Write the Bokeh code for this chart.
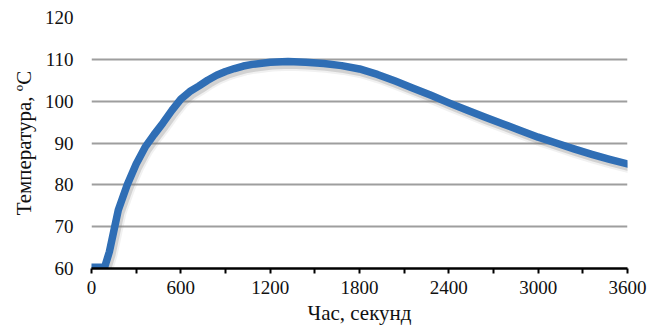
from bokeh.plotting import figure
from bokeh.models import FixedTicker, Range1d
from bokeh.embed import file_html
from bokeh.resources import INLINE

# Data
time_s = [0, 60, 90, 120, 150, 180, 240, 300, 360, 420, 480, 540, 600, 660, 720,
          780, 840, 900, 960, 1020, 1080, 1200, 1320, 1440, 1560, 1680, 1800,
          1920, 2040, 2160, 2280, 2400, 2520, 2640, 2760, 2880, 3000, 3120,
          3240, 3360, 3480, 3600]
temp_c = [60.3, 60.3, 60.5, 64, 69, 74, 80, 85, 89, 92, 94.8, 97.8, 100.5,
          102.3, 103.6, 105, 106.2, 107.1, 107.8, 108.4, 108.8, 109.3, 109.5,
          109.3, 109.0, 108.5, 107.7, 106.4, 104.8, 103.1, 101.4, 99.6, 97.9,
          96.2, 94.6, 93.0, 91.4, 90.0, 88.6, 87.3, 86.1, 85.0]

x_major_ticks = [0, 600, 1200, 1800, 2400, 3000, 3600]
x_minor_ticks = [300, 900, 1500, 2100, 2700, 3300]
y_ticks = [60, 70, 80, 90, 100, 110, 120]

x_label = "Час, секунд"
y_label = "Температура, ºC"

FONT = "Liberation Serif"

p = figure(width=654, height=329, output_backend="svg", toolbar_location=None,
           x_range=Range1d(0, 3600), y_range=Range1d(60, 120),
           min_border_left=91, min_border_right=27, min_border_top=17,
           min_border_bottom=61)
p.outline_line_color = None
p.background_fill_color = "white"
p.border_fill_color = "white"

# shadow
sx = [t + 14 for t in time_s]
sy = [v - 0.8 for v in temp_c]
p.line(sx, sy, line_width=12, line_color="#888888", line_alpha=0.12,
       line_join="round", line_cap="round")
p.line(sx, sy, line_width=8, line_color="#777777", line_alpha=0.25,
       line_join="round", line_cap="round")
# main line
p.line(time_s, temp_c, line_width=7.5, line_color="#2F6EB5",
       line_join="round", line_cap="round")

# x axis
xa = p.xaxis[0]
xa.ticker = FixedTicker(ticks=x_major_ticks, minor_ticks=x_minor_ticks)
xa.axis_line_color = "black"
xa.axis_line_width = 2.5
xa.major_tick_line_color = "black"
xa.major_tick_line_width = 2
xa.minor_tick_line_color = "black"
xa.minor_tick_line_width = 2
xa.major_tick_in = 0
xa.major_tick_out = 5
xa.minor_tick_in = 0
xa.minor_tick_out = 5
xa.major_label_text_font = FONT
xa.major_label_text_font_size = "19px"
xa.major_label_text_color = "#111111"
xa.major_label_standoff = 7
xa.axis_label = x_label
xa.axis_label_text_font = FONT
xa.axis_label_text_font_size = "21px"
xa.axis_label_text_font_style = "normal"
xa.axis_label_text_color = "#111111"
xa.axis_label_standoff = 4

# y axis
ya = p.yaxis[0]
ya.ticker = FixedTicker(ticks=y_ticks, minor_ticks=[])
ya.axis_line_color = None
ya.major_tick_line_color = None
ya.minor_tick_line_color = None
ya.major_label_text_font = FONT
ya.major_label_text_font_size = "19px"
ya.major_label_text_color = "#111111"
ya.major_label_standoff = 12
ya.axis_label = y_label
ya.axis_label_text_font = FONT
ya.axis_label_text_font_size = "21px"
ya.axis_label_text_font_style = "normal"
ya.axis_label_text_color = "#111111"
ya.axis_label_standoff = 6

p.xgrid.grid_line_color = None
p.ygrid.grid_line_color = "#9E9E9E"
p.ygrid.grid_line_width = 1.8

open("out.html", "w").write(file_html(p, INLINE))
